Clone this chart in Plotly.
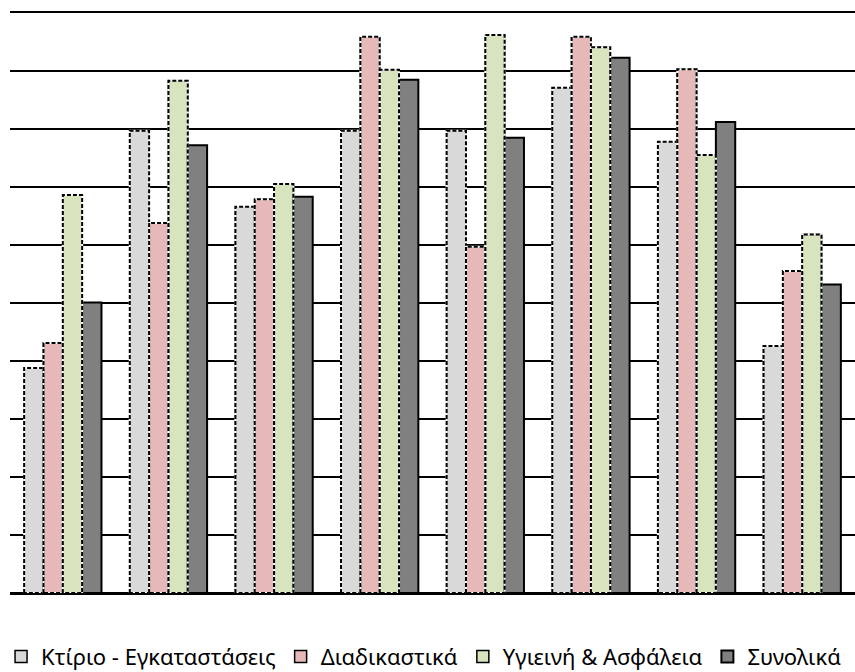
import plotly.graph_objects as go

# Eight survey units (unlabelled on the chart), four rating series each
groups = list(range(8))
series_names = ["Κτίριο - Εγκαταστάσεις", "Διαδικαστικά", "Υγιεινή & Ασφάλεια", "Συνολικά"]
ktirio = [38.8, 79.7, 66.6, 79.7, 79.7, 87.1, 77.8, 42.6]
diadikastika = [43.1, 63.8, 67.9, 95.9, 59.7, 95.9, 90.3, 55.5]
ygieini = [68.6, 88.3, 70.5, 90.2, 96.2, 94.1, 75.5, 61.8]
synolika = [50.1, 77.2, 68.3, 88.5, 78.5, 92.3, 81.2, 53.2]

values = [ktirio, diadikastika, ygieini, synolika]
fills = ["#d9d9d9", "#e6b9b8", "#d7e4bd", "#808080"]
dashed = [True, True, True, False]

bar_w = 0.183

fig = go.Figure()
for i, (name, vals, col, dsh) in enumerate(zip(series_names, values, fills, dashed)):
    off = (i - 2) * bar_w
    fig.add_trace(go.Bar(
        x=groups, y=vals, name=name, width=bar_w, offset=off,
        marker=dict(color=col,
                    line=dict(color="black", width=1.5 if dsh else 2)),
    ))

# dashed outlines for the first three series
for i, (vals, dsh) in enumerate(zip(values, dashed)):
    if not dsh:
        continue
    off = (i - 2) * bar_w
    xs, ys = [], []
    for g, v in zip(groups, vals):
        x0, x1 = g + off, g + off + bar_w
        xs += [x0, x0, x1, x1, x0, None]
        ys += [0, v, v, 0, 0, None]
    fig.add_trace(go.Scatter(x=xs, y=ys, mode="lines", showlegend=False,
                             hoverinfo="skip",
                             line=dict(color="white", width=2)))
    fig.add_trace(go.Scatter(x=xs, y=ys, mode="lines", showlegend=False,
                             hoverinfo="skip",
                             line=dict(color="black", width=2, dash="4px,2px")))

fig.update_layout(
    barmode="overlay",
    width=855, height=672,
    margin=dict(l=10, r=0, t=13, b=79, autoexpand=False),
    paper_bgcolor="white", plot_bgcolor="white",
    font=dict(family="Noto Sans", size=22, color="black"),
    legend=dict(orientation="h", x=0.49, xanchor="center", y=-0.110, yanchor="middle",
                font=dict(size=22), itemwidth=30, traceorder="normal"),
    xaxis=dict(range=[-0.5, 7.5], showticklabels=False, showgrid=False,
               zeroline=False, showline=True, mirror=True, linecolor="black",
               linewidth=2, ticks=""),
    yaxis=dict(range=[0, 100], dtick=10, showticklabels=False, showgrid=True,
               gridcolor="black", gridwidth=2, zeroline=True, zerolinecolor="black",
               zerolinewidth=2, showline=False, ticks=""),
)

fig.write_html("out.html")
